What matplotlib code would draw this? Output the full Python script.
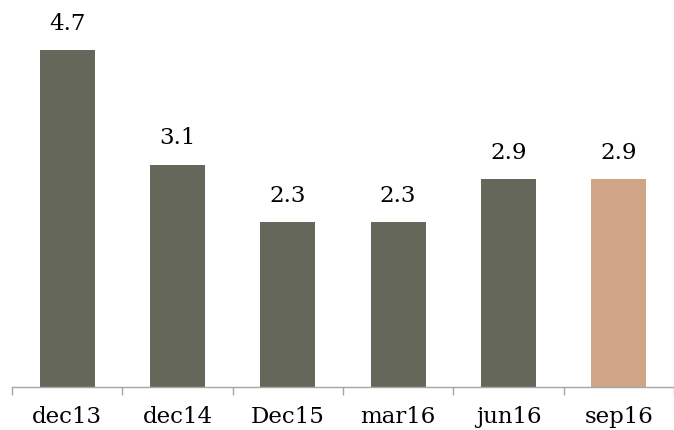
import matplotlib
matplotlib.use("Agg")
import matplotlib.pyplot as plt
from matplotlib.ticker import FixedLocator

categories = ["dec13", "dec14", "Dec15", "mar16", "jun16", "sep16"]
values = [4.7, 3.1, 2.3, 2.3, 2.9, 2.9]
bar_colors = ["#66675B", "#66675B", "#66675B", "#66675B", "#66675B", "#CFA586"]

plt.rcParams["font.family"] = ["DejaVu Serif"]

fig = plt.figure(figsize=(6.74, 4.30), dpi=100)
ax = fig.add_axes([12 / 674, 0.1, 1 - 12 / 674, 0.867])

x = list(range(len(categories)))
bars = ax.bar(x, values, width=0.5, color=bar_colors)

for xi, v in zip(x, values):
    ax.annotate(f"{v:.1f}", xy=(xi, v), xytext=(0, 11), textcoords="offset points",
                ha="center", va="bottom", fontsize=16.5, color="#000000")

ax.set_xlim(-0.5, len(categories) - 0.5)
ax.set_ylim(0, 5.2)

ax.set_xticks(x)
ax.set_xticklabels(categories, fontsize=16.5)
ax.tick_params(axis="x", which="major", length=0, pad=14)
ax.xaxis.set_minor_locator(FixedLocator([i - 0.5 for i in range(len(categories) + 1)]))
ax.tick_params(axis="x", which="minor", length=6, width=1, color="#A6A6A6", direction="out")

ax.set_yticks([])
for side in ["left", "right", "top"]:
    ax.spines[side].set_visible(False)
ax.spines["bottom"].set_color("#A6A6A6")
ax.spines["bottom"].set_linewidth(1)

fig.savefig("out.png", dpi=100)
